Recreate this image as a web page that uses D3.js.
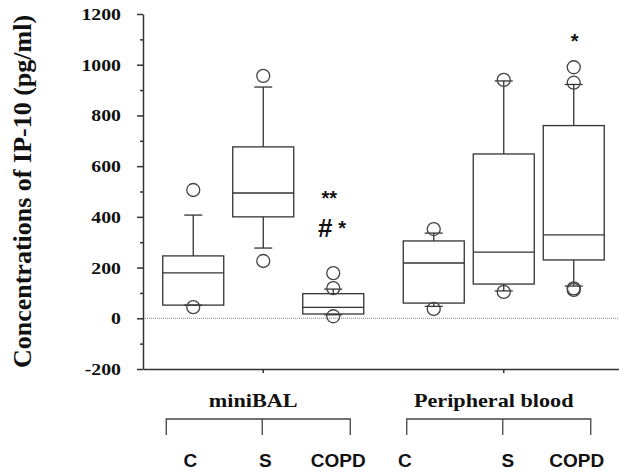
<!DOCTYPE html>
<html>
<head>
<meta charset="utf-8">
<script src="https://cdn.jsdelivr.net/npm/d3@7"></script>
<style>
  html, body { margin: 0; padding: 0; background: #fff; }
  svg { display: block; }
</style>
</head>
<body>
<svg id="chart" width="619" height="474"></svg>
<script>
// ---------------- data ----------------
const groups = ["miniBAL", "Peripheral blood"];
const subgroups = ["C", "S", "COPD"];
const boxGroup = ["miniBAL", "miniBAL", "miniBAL", "Peripheral blood", "Peripheral blood", "Peripheral blood"];
const boxSub = ["C", "S", "COPD", "C", "S", "COPD"];
const whiskerLow = [52, 277, 14, 47, 108, 127];
const q1 = [52, 400, 17, 60, 135, 230];
const median = [179, 494, 43, 218, 261, 329];
const q3 = [246, 676, 97, 305, 648, 760];
const whiskerHigh = [407, 912, 115, 336, 936, 922];
const outliers = [[506, 44], [956, 226], [178, 119, 8], [352, 37], [940, 104], [990, 929, 118, 112]];
const yTicks = [-200, 0, 200, 400, 600, 800, 1000, 1200];
const yMinorTicks = [-100, 100, 300, 500, 700, 900, 1100];
const annotText = ["**", "#", "*", "*"];
const annotBox = [2, 2, 2, 5];
const annotValue = [495, 356, 377, 1113];
const yTitle = "Concentrations of IP-10 (pg/ml)";

// ---------------- layout ----------------
const svg = d3.select("#chart");
const ink = "#333";
const y = d3.scaleLinear().domain([-200, 1200]).range([369, 14]);
const gx = d3.scaleBand().domain(groups).range([143, 624]);
const ix = d3.scalePoint().domain(subgroups).range([-70, 70]);
const cx = i => gx(boxGroup[i]) + gx.bandwidth() / 2 + ix(boxSub[i]);
const boxHalf = 30.5, capHalf = 9, r = 6.5;
const annotDx = [-4, -8, 9, 1];
const labelDx = [-3, 2, 5, -29, 4, 3];

// dotted zero line
svg.append("line")
  .attr("x1", 143).attr("x2", 619)
  .attr("y1", y(0)).attr("y2", y(0))
  .attr("stroke", "#888").attr("stroke-width", 1)
  .attr("stroke-dasharray", "1,1");

// y axis
const yAxisG = svg.append("g").attr("transform", "translate(143,0)")
  .call(d3.axisLeft(y).tickValues(yTicks).tickSize(6).tickSizeOuter(0).tickFormat(""));
const yMinorG = svg.append("g").attr("transform", "translate(143,0)")
  .call(d3.axisLeft(y).tickValues(yMinorTicks).tickSize(3).tickSizeOuter(0).tickFormat(""));
yMinorG.select(".domain").remove();
[yAxisG, yMinorG].forEach(g => {
  g.selectAll("path, line").attr("stroke", ink).attr("stroke-width", 1.5);
});

svg.append("g").selectAll("text").data(yTicks).join("text")
  .attr("transform", d => `translate(121,${y(d) + 6}) scale(1.2,1)`)
  .attr("text-anchor", "end")
  .attr("font-family", "Liberation Serif, Times New Roman, serif")
  .attr("font-weight", "bold").attr("font-size", 16.5)
  .attr("fill", "#111")
  .text(d => d);

// y title
svg.append("text")
  .attr("transform", `translate(31,191.5) rotate(-90)`)
  .attr("text-anchor", "middle")
  .attr("font-family", "Liberation Serif, Times New Roman, serif")
  .attr("font-weight", "bold").attr("font-size", 26)
  .attr("fill", "#111")
  .text(yTitle);

// x axis
const xAxisG = svg.append("g").attr("transform", `translate(0,${y(-200)})`)
  .call(d3.axisBottom(gx).tickSize(4).tickSizeOuter(0).tickFormat(""));
xAxisG.selectAll("path, line").attr("stroke", ink).attr("stroke-width", 1.5);

// boxes
const idx = d3.range(boxGroup.length);
const bg = svg.append("g").attr("fill", "none").attr("stroke", ink).attr("stroke-width", 1.3);
idx.forEach(i => {
  const c = cx(i);
  const g = bg.append("g");
  g.append("line").attr("x1", c).attr("x2", c).attr("y1", y(q3[i])).attr("y2", y(whiskerHigh[i]));
  g.append("line").attr("x1", c).attr("x2", c).attr("y1", y(q1[i])).attr("y2", y(whiskerLow[i]));
  g.append("line").attr("x1", c - capHalf).attr("x2", c + capHalf).attr("y1", y(whiskerHigh[i])).attr("y2", y(whiskerHigh[i]));
  g.append("line").attr("x1", c - capHalf).attr("x2", c + capHalf).attr("y1", y(whiskerLow[i])).attr("y2", y(whiskerLow[i]));
  g.append("rect").attr("x", c - boxHalf).attr("width", boxHalf * 2)
    .attr("y", y(q3[i])).attr("height", y(q1[i]) - y(q3[i]));
  g.append("line").attr("x1", c - boxHalf).attr("x2", c + boxHalf).attr("y1", y(median[i])).attr("y2", y(median[i]));
  g.selectAll("circle").data(outliers[i]).join("circle")
    .attr("cx", c).attr("cy", d => y(d)).attr("r", r)
    .attr("stroke", "#444");
});

// annotations
svg.append("g").selectAll("text").data(annotText).join("text")
  .attr("x", (d, k) => cx(annotBox[k]) + annotDx[k])
  .attr("y", (d, k) => y(annotValue[k]) + (d === "#" ? 9 : 12))
  .attr("text-anchor", "middle")
  .attr("font-family", "Liberation Sans, Arial, sans-serif")
  .attr("font-weight", "bold")
  .attr("font-size", d => d === "#" ? 26 : 20)
  .attr("fill", "#111")
  .text(d => d);

// group labels and brackets
const bottom = svg.append("g");
groups.forEach(gname => {
  const c = gx(gname) + gx.bandwidth() / 2;
  bottom.append("text")
    .attr("transform", `translate(${c - 10},407) scale(1.2,1)`)
    .attr("text-anchor", "middle")
    .attr("font-family", "Liberation Serif, Times New Roman, serif")
    .attr("font-weight", "bold").attr("font-size", 18.5)
    .attr("fill", "#111")
    .text(gname);
  const br = bottom.append("g").attr("stroke", "#444").attr("stroke-width", 1.3).attr("fill", "none");
  br.append("path").attr("d", `M${c - 97},435V419H${c + 87}V435`);
  br.append("line").attr("x1", c - 1).attr("x2", c - 1).attr("y1", 419).attr("y2", 435);
});

bottom.selectAll("text.sub").data(idx).join("text")
  .attr("class", "sub")
  .attr("x", i => cx(i) + labelDx[i])
  .attr("y", 467)
  .attr("text-anchor", "middle")
  .attr("font-family", "Liberation Sans, Arial, sans-serif")
  .attr("font-weight", "bold").attr("font-size", 19)
  .attr("fill", "#111")
  .text(i => boxSub[i]);
</script>
</body>
</html>
